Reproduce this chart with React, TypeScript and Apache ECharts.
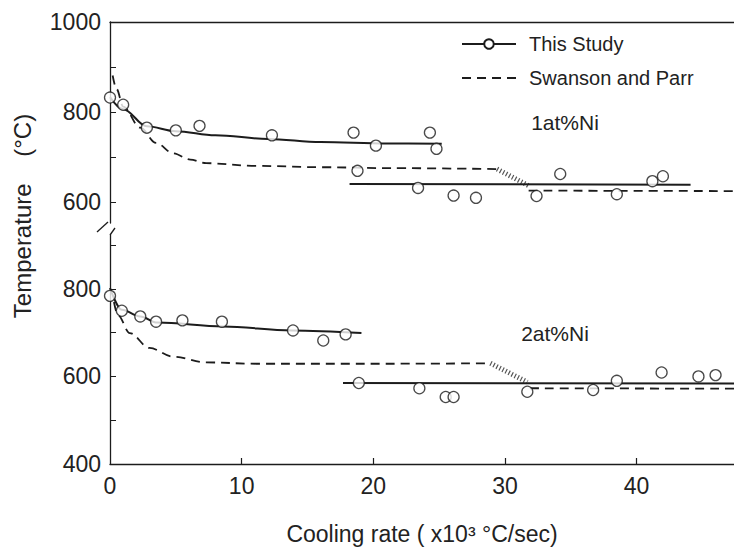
import React, { useEffect, useRef } from "react";
import * as echarts from "echarts";

// ---- data (x: cooling rate ×10^3 °C/s, y: temperature °C) ----
// 1 at% Ni (upper panel)
const study1X = [0, 1.0, 2.8, 5.0, 6.8, 12.3, 18.5, 20.2, 18.8, 24.3, 24.8, 23.4, 26.1, 27.8, 32.4, 34.2, 38.5, 41.2, 42.0];
const study1Y = [832, 816, 765, 759, 769, 748, 754, 725, 669, 754, 718, 631, 614, 609, 613, 662, 617, 646, 657];
const fit1HiX = [0, 1, 2.8, 5, 8, 12, 16, 21, 25.2];
const fit1HiY = [833, 806, 768, 757, 748, 740, 733, 730, 729];
const fit1LoX = [18.2, 44.1];
const fit1LoY = [640, 638];
const sp1HiX = [0.2, 0.5, 1, 2.3, 3.5, 4.8, 6.1, 7.3, 11.1, 16.2, 21.3, 29.4];
const sp1HiY = [881, 851, 812, 765, 731, 708, 694, 686, 680, 677, 675, 673];
const sp1TrX = [29.4, 31.8];
const sp1TrY = [673, 636];
const sp1LoX = [31.8, 47.4];
const sp1LoY = [625, 624];

// 2 at% Ni (lower panel)
const study2X = [0, 0.9, 2.3, 3.5, 5.5, 8.5, 13.9, 16.2, 17.9, 18.9, 23.5, 25.5, 26.1, 31.7, 36.7, 38.5, 41.9, 44.7, 46.0];
const study2Y = [784, 750, 737, 725, 728, 725, 705, 682, 696, 585, 573, 553, 553, 565, 569, 590, 609, 600, 603];
const fit2HiX = [0, 0.9, 2.3, 3.6, 8.6, 13.8, 19.1];
const fit2HiY = [802, 752, 737, 723, 714, 705, 699];
const fit2LoX = [17.7, 47.4];
const fit2LoY = [585, 584];
const sp2HiX = [0.3, 0.6, 1.5, 3.0, 4.8, 7.3, 11.1, 21.3, 28.9];
const sp2HiY = [770, 740, 699, 665, 645, 632, 629, 629, 630];
const sp2TrX = [28.9, 31.7];
const sp2TrY = [630, 587];
const sp2LoX = [31.9, 47.4];
const sp2LoY = [573, 572];

// axis ticks / labels
const xTickVals = [10, 20, 30, 40];
const xLabelVals = [0, 10, 20, 30, 40];
const yTopTicks = [600, 700, 800, 900, 1000];
const yTopLabels = [600, 800, 1000];
const yBotTicks = [400, 500, 600, 700, 800, 900];
const yBotLabels = [400, 600, 800];

const legendNames = ["This Study", "Swanson and Parr"];
const panelLabels = ["1at%Ni", "2at%Ni"];
const xTitle = "Cooling rate ( x10³ °C/sec)";
const yTitle = "Temperature    (°C)";

const zip = (xs: number[], ys: number[]) => xs.map((x, i) => [x, ys[i]]);

const INK = "#1c1c1c";
const TFONT = "'Liberation Sans', 'DejaVu Sans', sans-serif";

export default function App() {
  const ref = useRef<HTMLDivElement>(null);
  useEffect(() => {
    if (!ref.current) return;
    const chart = echarts.init(ref.current, undefined, { renderer: "svg" });

    const solid = (name: string, xs: number[], ys: number[], g: number) => ({
      type: "line",
      name,
      xAxisIndex: g,
      yAxisIndex: g,
      data: zip(xs, ys),
      smooth: 0.35,
      smoothMonotone: "x",
      symbol: "none",
      lineStyle: { color: INK, width: 2 },
      itemStyle: { color: INK },
      z: 2,
      silent: true,
    });
    const dashed = (xs: number[], ys: number[], g: number) => ({
      type: "line",
      name: "Swanson and Parr",
      xAxisIndex: g,
      yAxisIndex: g,
      data: zip(xs, ys),
      smooth: 0.35,
      smoothMonotone: "x",
      symbol: "none",
      lineStyle: { color: INK, width: 1.8, type: [9, 6] },
      itemStyle: { color: INK },
      z: 2,
      silent: true,
    });
    const hatch = (xs: number[], ys: number[], g: number) => ({
      type: "line",
      name: "Swanson and Parr",
      xAxisIndex: g,
      yAxisIndex: g,
      data: zip(xs, ys),
      symbol: "none",
      lineStyle: { color: "#555", width: 5, type: [1.2, 2.2] },
      z: 2,
      silent: true,
    });
    const points = (xs: number[], ys: number[], g: number) => ({
      type: "scatter",
      name: "This Study",
      xAxisIndex: g,
      yAxisIndex: g,
      data: zip(xs, ys),
      symbol: "circle",
      symbolSize: 11,
      itemStyle: { color: "#fff", borderColor: INK, borderWidth: 1.3 },
      z: 5,
      silent: true,
    });

    const axisLine = { show: true, lineStyle: { color: INK, width: 1.3 } };
    const labelStyle = { color: "#222", fontSize: 23, fontFamily: TFONT, formatter: (v: number) => String(v) };

    chart.setOption({
      animation: false,
      backgroundColor: "#fff",
      textStyle: { fontFamily: TFONT },
      legend: {
        data: [
          { name: legendNames[0] },
          { name: legendNames[1], itemStyle: { opacity: 0 } },
        ],
        orient: "vertical",
        left: 456,
        top: 29,
        itemWidth: 54,
        itemHeight: 12,
        itemGap: 14,
        textStyle: { fontSize: 20, color: "#222", fontFamily: TFONT, padding: [0, 0, 0, 8] },
        selectedMode: false,
      },
      grid: [
        { left: 110, right: 0, top: 22, height: 201 },
        { left: 110, right: 0, top: 235, height: 229 },
      ],
      xAxis: [
        {
          gridIndex: 0,
          type: "value",
          min: 0,
          max: 47.4,
          position: "top",
          axisLine,
          axisTick: { show: false },
          axisLabel: { show: false },
          splitLine: { show: false },
        },
        {
          gridIndex: 1,
          type: "value",
          min: 0,
          max: 47.4,
          position: "bottom",
          axisLine,
          axisTick: { show: true, inside: true, length: 6, lineStyle: { color: INK, width: 1.2 }, customValues: xTickVals },
          axisLabel: { ...labelStyle, margin: 10, customValues: xLabelVals },
          splitLine: { show: false },
        },
      ],
      yAxis: [
        {
          gridIndex: 0,
          type: "value",
          min: 553,
          max: 1000,
          axisLine,
          axisTick: { show: true, inside: true, length: 6, lineStyle: { color: INK, width: 1 }, customValues: yTopTicks },
          axisLabel: { ...labelStyle, margin: 9, customValues: yTopLabels },
          splitLine: { show: false },
        },
        {
          gridIndex: 1,
          type: "value",
          min: 400,
          max: 923,
          axisLine,
          axisTick: { show: true, inside: true, length: 6, lineStyle: { color: INK, width: 1 }, customValues: yBotTicks },
          axisLabel: { ...labelStyle, margin: 9, customValues: yBotLabels },
          splitLine: { show: false },
        },
      ],
      series: [
        {
          type: "line",
          name: "This Study",
          data: [],
          symbol: "emptyCircle",
          symbolSize: 10,
          lineStyle: { color: INK, width: 2 },
          itemStyle: { color: INK, borderWidth: 1.3 },
        },
        dashed(sp1HiX, sp1HiY, 0),
        hatch(sp1TrX, sp1TrY, 0),
        dashed(sp1LoX, sp1LoY, 0),
        solid("This Study", fit1HiX, fit1HiY, 0),
        solid("This Study", fit1LoX, fit1LoY, 0),
        points(study1X, study1Y, 0),
        dashed(sp2HiX, sp2HiY, 1),
        hatch(sp2TrX, sp2TrY, 1),
        dashed(sp2LoX, sp2LoY, 1),
        solid("This Study", fit2HiX, fit2HiY, 1),
        solid("This Study", fit2LoX, fit2LoY, 1),
        points(study2X, study2Y, 1),
      ],
      graphic: [
        { type: "line", shape: { x1: 108, y1: 222, x2: 97, y2: 232 }, style: { stroke: INK, lineWidth: 1.3 } },
        { type: "line", shape: { x1: 115, y1: 228, x2: 110, y2: 235 }, style: { stroke: INK, lineWidth: 1.3 } },
        {
          type: "text",
          x: 565,
          y: 122,
          style: { text: panelLabels[0], fontSize: 21, fill: "#222", align: "center", verticalAlign: "middle", fontFamily: TFONT },
        },
        {
          type: "text",
          x: 555,
          y: 333,
          style: { text: panelLabels[1], fontSize: 21, fill: "#222", align: "center", verticalAlign: "middle", fontFamily: TFONT },
        },
        {
          type: "text",
          x: 422,
          y: 534,
          style: { text: xTitle, fontSize: 23, fill: "#222", align: "center", verticalAlign: "middle", fontFamily: TFONT },
        },
        {
          type: "text",
          x: 22,
          y: 216,
          rotation: Math.PI / 2,
          style: { text: yTitle, fontSize: 24, fill: "#222", align: "center", verticalAlign: "middle", fontFamily: TFONT },
        },
      ],
    });
    return () => chart.dispose();
  }, []);
  return (
    <div
      ref={ref}
      style={{ position: "fixed", left: 0, top: 0, width: 734, height: 552, background: "#fff" }}
    />
  );
}
